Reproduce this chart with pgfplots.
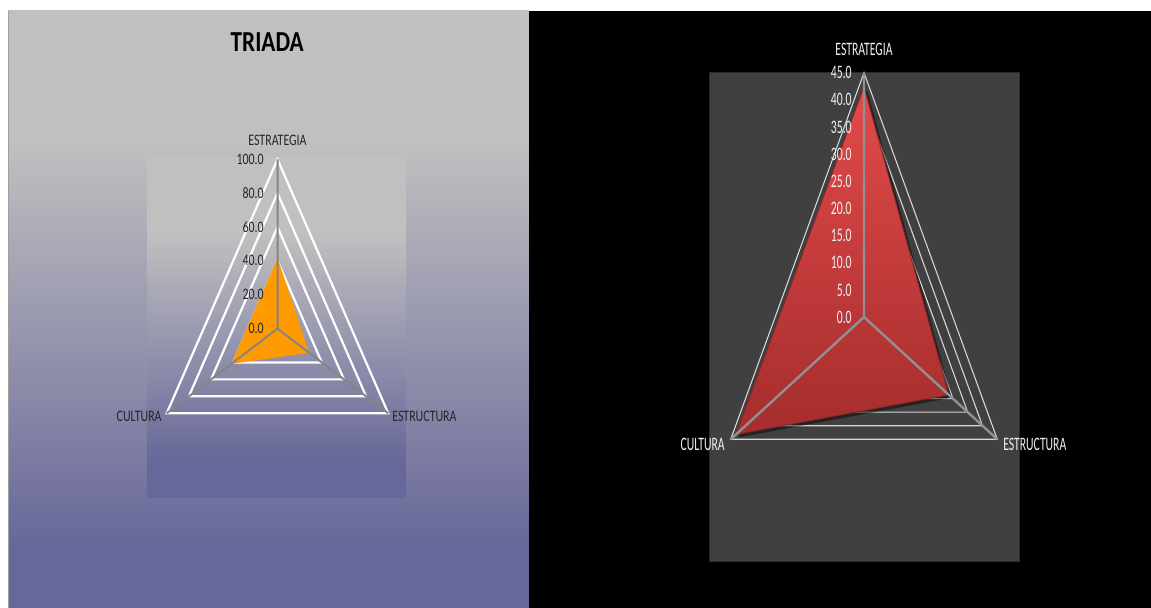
\documentclass[border=0pt]{standalone}
\usepackage{pgfplots}
\pgfplotsset{compat=1.18}
\usepackage{graphicx}
\usepackage{fontspec}
\setmainfont{Carlito}

\definecolor{panelgray}{HTML}{C0C0C0}
\definecolor{panelpurple}{HTML}{67679A}
\definecolor{triorange}{HTML}{FF9A00}
\definecolor{spokegray}{HTML}{858585}
\definecolor{plotdark}{HTML}{404040}
\definecolor{plotedge}{HTML}{2A2A2A}
\definecolor{gridlight}{HTML}{D6D6D6}
\definecolor{redtop}{HTML}{E24A4A}
\definecolor{redbottom}{HTML}{A52D2D}
\definecolor{rededge}{HTML}{8E2424}
\definecolor{labelwhite}{HTML}{F0F0F0}

% vertical background: the filled path spans 25bp..75bp of the shading;
% flat purple at the bottom, flat grey at the top
\pgfdeclareverticalshading{panelshade}{100bp}{%
  color(0bp)=(panelpurple); color(30bp)=(panelpurple);
  color(64bp)=(panelgray); color(100bp)=(panelgray)}

\newcommand{\lefttext}[1]{\scalebox{0.744}[1]{#1}}
\newcommand{\righttext}[1]{\scalebox{0.616}[1]{#1}}

\begin{document}
\begin{tikzpicture}[x=0.5pt,y=0.5pt]
  % canvas
  \fill[white] (0,0) rectangle (1151,608);

  % ---- left panel ----
  \shade[shading=panelshade] (8,0) rectangle (529,597.3);
  \draw[gray!75, line width=0.5pt] (8.3,0) -- (8.3,597.3);
  \shade[shading=panelshade] (147,110.7) rectangle (405.7,450);
  \node at (267.2,566.3) {\scalebox{0.8}[1]{\fontsize{14.5}{16}\selectfont\bfseries TRIADA}};

  % ---- right panel ----
  \fill[black] (529,0) rectangle (1151,597.3);
  \filldraw[fill=plotdark, draw=plotedge, line width=0.5pt] (709.3,46.7) rectangle (1019.3,535.3);

  % ---- left radar ----
  \begin{axis}[
      at={(138.75pt,139.7pt)}, anchor=origin,
      x=0.6395pt, y=0.8465pt,
      xmin=-100, xmax=100, ymin=-55, ymax=112,
      axis lines=none, ticks=none, clip=false,
      every axis plot/.append style={data cs=polar},
    ]
    % triangular grid rings
    \pgfplotsinvokeforeach{20,40,60,80,100}{%
      \addplot[white, line width=1.1pt, line join=miter]
        coordinates {(90,#1) (330,#1) (210,#1)} -- cycle;
    }
    % series
    \addplot[fill=triorange, draw=none]
      coordinates {(90,41.7) (330,28.5) (210,41.7)} -- cycle;
    % spokes
    \addplot[spokegray, line width=1pt] coordinates {(90,100) (90,0) (210,100)};
    \addplot[spokegray, line width=1pt] coordinates {(330,0) (330,100)};
    % value labels
    \pgfplotsinvokeforeach{0,20,40,60,80,100}{%
      \node[anchor=east, inner sep=0pt, text=black!85,
            font=\fontsize{8}{9}\selectfont] at (axis cs:-10.5,#1) {\lefttext{#1.0}};
    }
    % category labels
    \node[inner sep=0pt, text=black!85, font=\fontsize{8}{9}\selectfont]
      at (axis cs:0,111) {\lefttext{ESTRATEGIA}};
    \node[anchor=east, inner sep=0pt, text=black!85, font=\fontsize{8}{9}\selectfont]
      at (axis cs:-90.3,-52) {\lefttext{CULTURA}};
    \node[anchor=west, inner sep=0pt, text=black!85, font=\fontsize{8}{9}\selectfont]
      at (axis cs:89.5,-52) {\lefttext{ESTRUCTURA}};
  \end{axis}

  % ---- right radar ----
  \begin{axis}[
      at={(432pt,145.45pt)}, anchor=origin,
      x=1.71pt, y=2.7155pt,
      xmin=-45, xmax=45, ymin=-25, ymax=50,
      axis lines=none, ticks=none, clip=false,
      every axis plot/.append style={data cs=polar},
    ]
    % triangular grid rings
    \pgfplotsinvokeforeach{5,10,15,20,25,30,35,40,45}{%
      \addplot[gridlight, line width=0.55pt, line join=miter]
        coordinates {(90,#1) (330,#1) (210,#1)} -- cycle;
    }
    % series with shadow
    \addplot[fill=black, opacity=0.45, draw=none, xshift=1.5pt, yshift=-1.5pt]
      coordinates {(90,42.4) (330,28.6) (210,43.2)} -- cycle;
    \addplot[top color=redtop, bottom color=redbottom, draw=rededge, line width=0.4pt]
      coordinates {(90,42.4) (330,28.6) (210,43.2)} -- cycle;
    % spokes
    \addplot[spokegray!90!white, line width=1.2pt] coordinates {(90,45) (90,0) (210,45)};
    \addplot[spokegray!90!white, line width=1.2pt] coordinates {(330,0) (330,45)};
    % value labels
    \pgfplotsinvokeforeach{0,5,10,15,20,25,30,35,40,45}{%
      \node[anchor=east, inner sep=0pt, text=labelwhite,
            font=\fontsize{9.5}{11}\selectfont] at (axis cs:-3.5,#1) {\righttext{#1.0}};
    }
    % category labels
    \node[inner sep=0pt, text=labelwhite, font=\fontsize{9.5}{11}\selectfont]
      at (axis cs:0,49.2) {\righttext{ESTRATEGIA}};
    \node[anchor=east, inner sep=0pt, text=labelwhite, font=\fontsize{9.5}{11}\selectfont]
      at (axis cs:-40.6,-23.4) {\righttext{CULTURA}};
    \node[anchor=west, inner sep=0pt, text=labelwhite, font=\fontsize{9.5}{11}\selectfont]
      at (axis cs:40.6,-23.4) {\righttext{ESTRUCTURA}};
  \end{axis}

  \pgfresetboundingbox
  \useasboundingbox (0,0) rectangle (1151,608);
\end{tikzpicture}
\end{document}
